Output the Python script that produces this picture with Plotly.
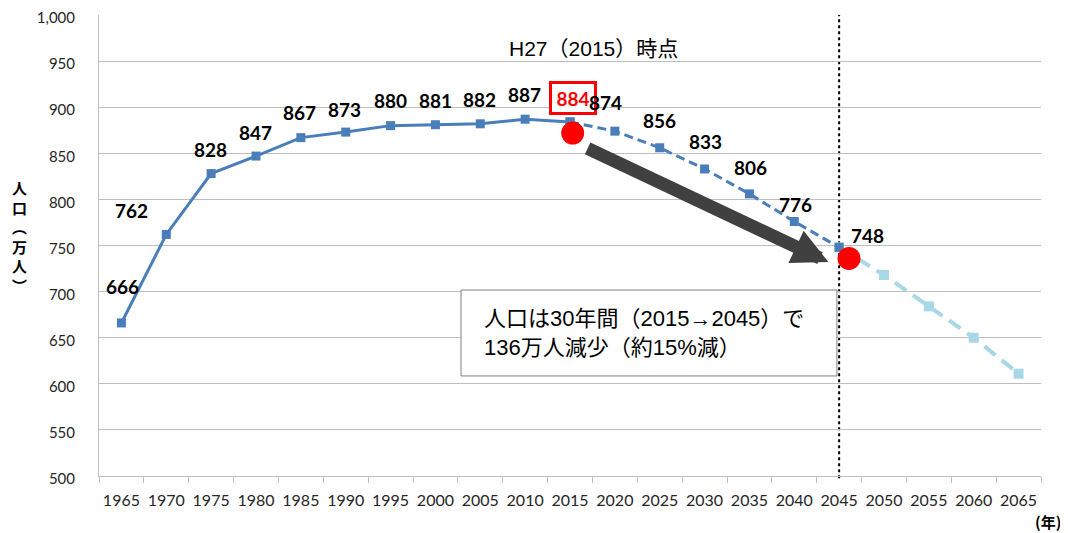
import plotly.graph_objects as go

# --- data ---
years_actual = [1965, 1970, 1975, 1980, 1985, 1990, 1995, 2000, 2005, 2010, 2015]
pop_actual = [666, 762, 828, 847, 867, 873, 880, 881, 882, 887, 884]
years_proj = [2015, 2020, 2025, 2030, 2035, 2040, 2045]
pop_proj = [884, 874, 856, 833, 806, 776, 748]
years_far = [2045, 2050, 2055, 2060, 2065]
pop_far = [748, 718, 684, 650, 611]
label_years = [1965, 1970, 1975, 1980, 1985, 1990, 1995, 2000, 2005, 2010, 2015,
               2020, 2025, 2030, 2035, 2040, 2045]
label_values = [666, 762, 828, 847, 867, 873, 880, 881, 882, 887, 884,
                874, 856, 833, 806, 776, 748]
# label offsets (pixels) – styling
label_dx = [1, -35, -1, -1, -1, -1, 0, 0, -1, -1, 3, -9, 0, 1, 1, 1, 28]
label_dy = [36, 24, 24, 24, 25, 23, 25, 24, 24, 25, 24, 29, 27, 27, 26, 17, 12]
marker_years = [2015.3, 2046.1]
marker_values = [872, 736]
arrow_from = (2016.8, 856)
arrow_to = (2043.8, 732)
tick_years = list(range(1965, 2070, 5))
boundary_years = [y - 2.5 for y in range(1965, 2075, 5)]

BLUE = "#4a7ebb"
LIGHT = "#a8d8e6"
GRID = "#bfbfbf"
LATO = "Lato, Noto Sans CJK JP, sans-serif"
JP = "Liberation Sans, Noto Sans CJK JP, sans-serif"

fig = go.Figure()
fig.add_trace(go.Scatter(x=years_far, y=pop_far, mode="lines+markers",
                         line=dict(color=LIGHT, width=4, dash="14px,8px"),
                         marker=dict(symbol="square", size=10, color=LIGHT)))
fig.add_trace(go.Scatter(x=years_proj, y=pop_proj, mode="lines+markers",
                         line=dict(color=BLUE, width=3, dash="9px,5px"),
                         marker=dict(symbol="square", size=9, color=BLUE)))
fig.add_trace(go.Scatter(x=years_actual, y=pop_actual, mode="lines+markers",
                         line=dict(color=BLUE, width=3),
                         marker=dict(symbol="square", size=9, color=BLUE)))
fig.add_trace(go.Scatter(x=marker_years, y=marker_values, mode="markers",
                         marker=dict(size=23, color="#ff0000")))

annotations = []
for yr, v, dx, dy in zip(label_years, label_values, label_dx, label_dy):
    if yr == 2015:
        annotations.append(dict(x=yr, y=v, xref="x", yref="y", text="<b>%d</b>" % v,
                                showarrow=False, xshift=dx, yshift=dy, width=40, height=26,
                                font=dict(family=LATO, size=19, color="#ff0000"),
                                bordercolor="#ff0000", borderwidth=3, borderpad=1,
                                bgcolor="white"))
    else:
        annotations.append(dict(x=yr, y=v, xref="x", yref="y", text="<b>%d</b>" % v,
                                showarrow=False, xshift=dx, yshift=dy,
                                font=dict(family=LATO, size=19, color="black")))

annotations.append(dict(x=arrow_to[0], y=arrow_to[1], ax=arrow_from[0], ay=arrow_from[1],
                        xref="x", yref="y", axref="x", ayref="y", text="",
                        showarrow=True, arrowhead=2, arrowsize=0.55, arrowwidth=13,
                        arrowcolor="#404040", standoff=0))
annotations.append(dict(x=2017.6, y=964, xref="x", yref="y", text="H27（2015）時点",
                        showarrow=False, font=dict(family=JP, size=21, color="black")))
annotations.append(dict(x=2005.2, y=655, xref="x", yref="y", xanchor="left", yanchor="middle",
                        text="人口は30年間（2015→2045）で<br>136万人減少（約15%減）",
                        showarrow=False, align="left",
                        font=dict(family=JP, size=22, color="black")))
annotations.append(dict(x=-0.084, y=0.52, xref="paper", yref="paper", xanchor="center",
                        yanchor="middle",
                        text="<b>人<br>口<br>︵<br>万<br>人<br>︶</b>",
                        showarrow=False, font=dict(family="Noto Sans CJK JP", size=15, color="black")))
annotations.append(dict(x=1.0075, y=-0.098, xref="paper", yref="paper", xanchor="center",
                        yanchor="middle",
                        text="<b>(年)</b>", showarrow=False,
                        font=dict(family="Noto Sans CJK JP", size=15, color="black")))

fig.update_layout(
    width=1060, height=525,
    margin=dict(l=91, r=27, t=7, b=57, autoexpand=False),
    paper_bgcolor="white", plot_bgcolor="white",
    showlegend=False,
    font=dict(family=LATO, size=16, color="#404040"),
    annotations=annotations,
    shapes=[
        dict(type="line", xref="x", yref="paper", x0=2045, x1=2045, y0=-0.005, y1=1,
             line=dict(color="black", width=2, dash="dot"), layer="below"),
        dict(type="rect", xref="x", yref="y", x0=2002.85, x1=2044.75, y0=608.5, y1=701.7,
             line=dict(color="#7f7f7f", width=1), fillcolor="white", layer="above"),
    ],
)
fig.update_xaxes(range=[1962.5, 2067.5], tickvals=tick_years, ticktext=[str(y) for y in tick_years],
                 showgrid=False, zeroline=False, showline=True, linecolor=GRID, linewidth=1,
                 ticks="", ticklabelstandoff=10, automargin=False, ticklabeloverflow="allow",
                 tickfont=dict(family=LATO, size=16, color="#262626"),
                 minor=dict(tickvals=boundary_years, ticks="outside", ticklen=6,
                            tickcolor=GRID, showgrid=False))
fig.update_yaxes(range=[500, 1000], dtick=50, tickformat=",",
                 showgrid=True, gridcolor=GRID, gridwidth=1, zeroline=False,
                 showline=True, linecolor=GRID, linewidth=1, ticks="", ticklabelstandoff=20,
                 ticklabelshift=3,
                 automargin=False, ticklabeloverflow="allow",
                 tickfont=dict(family=LATO, size=15, color="#262626"))

fig.write_html("out.html")
